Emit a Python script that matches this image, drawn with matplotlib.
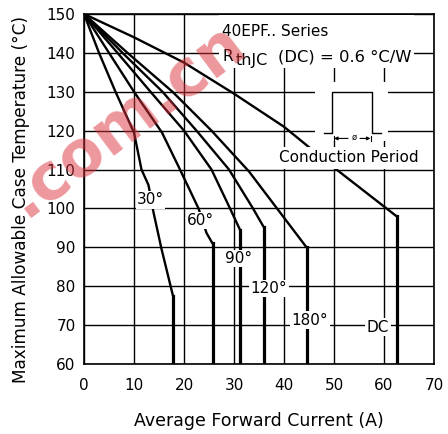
import numpy as np
import matplotlib
matplotlib.use("Agg")
import matplotlib.pyplot as plt
from matplotlib.patches import Rectangle

# ==========================================
# Dane (Tc max vs I_F(AV))
# ==========================================
x_30 = [0, 3.0, 6.3, 10.0, 11.5, 12.9, 13.9, 15.5, 17.8, 17.8]
y_30 = [150, 140, 130, 119.5, 110, 106, 99, 89.6, 77.5, 60]

x_60 = [0, 5.0, 10.0, 15.6, 19.2, 22.9, 24.5, 25.7, 25.7]
y_60 = [150, 140, 130, 119.5, 110, 100, 93.7, 91, 60]

x_90 = [0, 6.7, 13.3, 20.0, 25.5, 29.2, 31.2, 31.2]
y_90 = [150, 140, 130, 120, 110, 100, 94.5, 60]

x_120 = [0, 7.7, 15.7, 22.5, 29.0, 33.8, 35.9, 35.9]
y_120 = [150, 140, 130, 120, 110, 100, 95.3, 60]

x_180 = [0, 8.7, 17.7, 25.5, 33.0, 38.6, 44.5, 44.5]
y_180 = [150, 140, 130, 120, 109.5, 100, 90, 60]

x_dc = [0, 10, 20, 30, 40, 50, 62.5, 62.5]
y_dc = [150, 144, 137.5, 129.5, 121, 110.5, 98, 60]

curves = [(x_30, y_30), (x_60, y_60), (x_90, y_90),
          (x_120, y_120), (x_180, y_180), (x_dc, y_dc)]

labels = ["30°", "60°", "90°", "120°", "180°", "DC"]
label_x = [13.3, 23.3, 31.0, 37.0, 45.2, 58.8]
label_y = [102.2, 96.9, 87.1, 79.4, 71.3, 69.5]

x_ticks = list(range(0, 71, 10))
y_ticks = list(range(60, 151, 10))

# ==========================================
# Wykres
# ==========================================
plt.rcParams['font.family'] = ['DejaVu Sans']
fig = plt.figure(figsize=(4.48, 4.34), dpi=100)
ax = fig.add_axes([0.1875, 0.1613, 0.78125, 0.8065])

ax.set_xlim(0, 70)
ax.set_ylim(60, 150)
ax.set_xticks(x_ticks)
ax.set_yticks(y_ticks)
ax.tick_params(length=0, labelsize=11)
ax.tick_params(axis='x', pad=10)
ax.tick_params(axis='y', pad=6)
ax.set_axisbelow(True)
ax.grid(True, color='black', linewidth=1.0, linestyle='-')
for s in ax.spines.values():
    s.set_linewidth(1.2)

for xs, ys in curves:
    # górna część cieńsza, pionowy odcinek grubszy
    ax.plot(xs[:-1], ys[:-1], color='black', linewidth=1.7, zorder=3,
            solid_capstyle='round')
    ax.plot(xs[-2:], ys[-2:], color='black', linewidth=2.3, zorder=3)

for txt, lx, ly in zip(labels, label_x, label_y):
    ax.text(lx, ly, txt, fontsize=11, ha='center', va='center', zorder=6,
            bbox=dict(facecolor='white', edgecolor='none', pad=1.0))

# Opis serii w prawym górnym rogu
ax.add_patch(Rectangle((27, 136), 39, 13.7, facecolor='white',
                       edgecolor='none', zorder=2))
ax.text(27.6, 145.4, "40EPF.. Series", fontsize=11, ha='left', va='center',
        zorder=6)
ax.text(27.6, 139.0, "R", fontsize=11, ha='left', va='center', zorder=6)
ax.text(30.4, 138.0, "thJC", fontsize=11.5, ha='left', va='center', zorder=6)
ax.text(38.7, 139.0, "(DC) = 0.6 °C/W", fontsize=11.8, ha='left',
        va='center', zorder=6)

# Przebieg prostokątny (okres przewodzenia)
ax.add_patch(Rectangle((46.2, 117.4), 14.6, 15.0, facecolor='white',
                       edgecolor='none', zorder=2))
ax.plot([48.0, 49.6, 49.6, 57.5, 57.5, 59.3],
        [119.5, 119.5, 129.9, 129.9, 119.5, 119.5],
        color='black', linewidth=1.0, zorder=4)
ax.plot([50.0, 50.0], [117.3, 118.7], color='black', linewidth=0.8, zorder=4)
ax.plot([57.3, 57.3], [117.3, 118.7], color='black', linewidth=0.8, zorder=4)
ax.annotate("", xy=(50.0, 118.0), xytext=(52.8, 118.0), zorder=4,
            arrowprops=dict(arrowstyle='-|>', color='black', lw=0.8,
                            mutation_scale=5, shrinkA=0, shrinkB=0))
ax.annotate("", xy=(57.3, 118.0), xytext=(55.2, 118.0), zorder=4,
            arrowprops=dict(arrowstyle='-|>', color='black', lw=0.8,
                            mutation_scale=5, shrinkA=0, shrinkB=0))
ax.text(54.0, 118.2, "ø", fontsize=6, ha='center', va='center', zorder=4)

ax.add_patch(Rectangle((38.4, 110.15), 29.2, 5.65, facecolor='white',
                       edgecolor='none', zorder=5))
ax.text(53.0, 113.0, "Conduction Period", fontsize=11, ha='center',
        va='center', zorder=6)

ax.set_xlabel("Average Forward Current (A)", fontsize=12.5)
ax.set_ylabel("Maximum Allowable Case Temperature (°C)", fontsize=12.2)
ax.xaxis.set_label_coords(0.5, -0.138)
ax.yaxis.set_label_coords(-0.155, 0.471)

# Znak wodny
fig.text(0.28, 0.7235, ".com.cn", rotation=37, color='#d9303a', alpha=0.5,
         fontsize=46, fontweight='bold', ha='center', va='center')

fig.savefig("out.png", dpi=100)
